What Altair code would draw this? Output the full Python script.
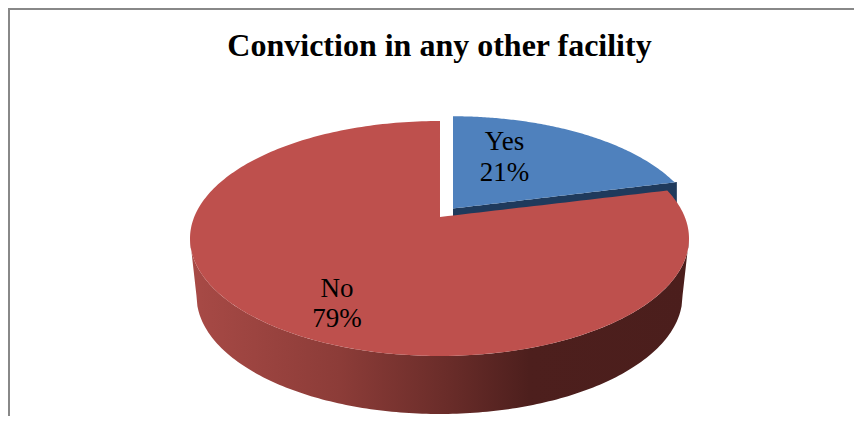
import numpy as np
import pandas as pd
import altair as alt

TITLE = "Conviction in any other facility"
categories = ["Yes", "No"]
values = [21, 79]
top_colors = ["#4F81BD", "#BE504D"]
blue_side = "#1F3A5C"
wall_stops = [(0.0, "#A84A46"), (0.30, "#8C3C38"), (0.52, "#692C29"), (0.68, "#4D1F1D"), (1.0, "#4B1E1C")]

# drawing geometry of the tilted pie (page pixels)
W, H = 846, 408
cx, cy, rx, ry = 439.5, 238.5, 249.5, 117.5
bcx, bcy, brx, bry = 439.5, 296.0, 243.0, 118.0
k, A, B = 0.188, 245.6, 113.0
red_apex = (440.0, 217.0)
blue_apex = (453.0, 208.5)
blue_scale = 0.985
depth = 58.0

x_scale = alt.Scale(domain=[8, 8 + W], range=[0, W], nice=False, zero=False)
y_scale = alt.Scale(domain=[8, 8 + H], range=[0, H], nice=False, zero=False)
X = alt.X("x:Q", scale=x_scale, axis=None)
Y = alt.Y("y:Q", scale=y_scale, axis=None)
Y2 = alt.Y2("y2:Q")


def corner(share, apex, s=1.0):
    th = 2 * np.pi * share / sum(values)
    u, v = np.sin(th), np.cos(th)
    w = 1 + k * v
    return apex[0] + s * A * u / w, apex[1] - s * B * v / w


def half(x, c_x, c_y, r_x, r_y, sign):
    q = np.clip(1 - ((x - c_x) / r_x) ** 2, 0, None)
    return c_y + sign * r_y * np.sqrt(q)


def area(xs, ys, y2s, fill):
    df = pd.DataFrame({"x": xs, "y": ys, "y2": y2s})
    return alt.Chart(df).mark_area(color=fill, orient="vertical").encode(x=X, y=Y, y2=Y2)


grid = np.linspace(0, np.pi, 181)

# blue slice (exploded)
bx_c, by_c = corner(values[0], blue_apex, blue_scale)
b_x = np.linspace(blue_apex[0], bx_c, 120)
b_line = blue_apex[1] + (by_c - blue_apex[1]) * (b_x - blue_apex[0]) / (bx_c - blue_apex[0])
b_cx, b_cy = cx + (blue_apex[0] - red_apex[0]), cy + (blue_apex[1] - red_apex[1])
b_up = half(b_x, b_cx, b_cy + 2, rx * blue_scale, ry * blue_scale, -1)
b_up = np.minimum(b_up, b_line)
blue_side_area = area(b_x, b_line, b_line + depth, blue_side)
blue_top = area(b_x, b_up, b_line, top_colors[0])

# red wall
wall_x = cx - rx * np.cos(grid)
wall_top = half(wall_x, cx, cy, rx, ry, 1)
wall_bot = half(np.clip(wall_x, bcx - brx, bcx + brx), bcx, bcy, brx, bry, 1)
left = wall_x < bcx - brx
wall_bot[left] = cy + (bcy - cy) * (wall_x[left] - (cx - rx)) / (rx - brx)
right = wall_x > bcx + brx
wall_bot[right] = cy + (bcy - cy) * ((cx + rx) - wall_x[right]) / (rx - brx)
wall = area(
    wall_x, wall_bot, wall_top,
    alt.Gradient(gradient="linear", x1=0, x2=1, y1=0, y2=0,
                 stops=[alt.GradientStop(offset=o, color=c) for o, c in wall_stops]),
)

# red slice top
rx_c, ry_c = corner(values[0], red_apex)
xa = cx - rx * np.cos(np.linspace(0, np.pi / 2, 90))
xa = xa[xa < red_apex[0] - 0.01]
xa = np.append(xa, red_apex[0] - 0.01)
xb = np.linspace(red_apex[0], rx_c, 30)
xc = cx + rx * np.sin(np.linspace(np.arcsin((rx_c - cx) / rx), np.pi / 2, 31))[1:]
r_x = np.concatenate([xa, xb, xc])
r_up = np.concatenate([
    half(xa, cx, cy, rx, ry, -1),
    red_apex[1] + (half(rx_c, cx, cy, rx, ry, -1) - red_apex[1]) * (xb - red_apex[0]) / (rx_c - red_apex[0]),
    half(xc, cx, cy, rx, ry, -1),
])
r_low = half(r_x, cx, cy, rx, ry, 1)
red_top = area(r_x, r_up, r_low, top_colors[1])

# data labels, from the categories and values
label_rows = []
for cat, val, lx, ly1, ly2 in zip(categories, values, [504.5, 337.0], [150.0, 297.0], [181.0, 327.0]):
    label_rows.append({"x": lx, "y": ly1, "t": cat})
    label_rows.append({"x": lx, "y": ly2, "t": f"{val}%"})
labels = alt.Chart(pd.DataFrame(label_rows)).mark_text(
    font="Liberation Serif", fontSize=27, color="#000000", baseline="alphabetic", align="center"
).encode(x=X, y=Y, text="t:N")
title_text = alt.Chart(pd.DataFrame({"x": [439.5], "y": [56.0], "t": [TITLE]})).mark_text(
    font="Liberation Serif", fontSize=32, fontWeight="bold", color="#000000",
    baseline="alphabetic", align="center",
).encode(x=X, y=Y, text="t:N")

frame_left = alt.Chart(pd.DataFrame({"a": [0]})).mark_rule(color="#888888", strokeWidth=2).encode(
    x=alt.value(1), y=alt.value(0), y2=alt.value(H)
)
frame_top = alt.Chart(pd.DataFrame({"a": [0]})).mark_rule(color="#888888", strokeWidth=2).encode(
    y=alt.value(1), x=alt.value(0), x2=alt.value(W)
)

chart = alt.layer(
    frame_left, frame_top, blue_side_area, blue_top, wall, red_top, labels, title_text
).properties(
    width=W, height=H, padding=0,
    autosize=alt.AutoSizeParams(type="none"),
).configure_view(stroke=None).configure(background="#FFFFFF")

chart.save("out.html", embed_options={"renderer": "svg", "actions": False})
